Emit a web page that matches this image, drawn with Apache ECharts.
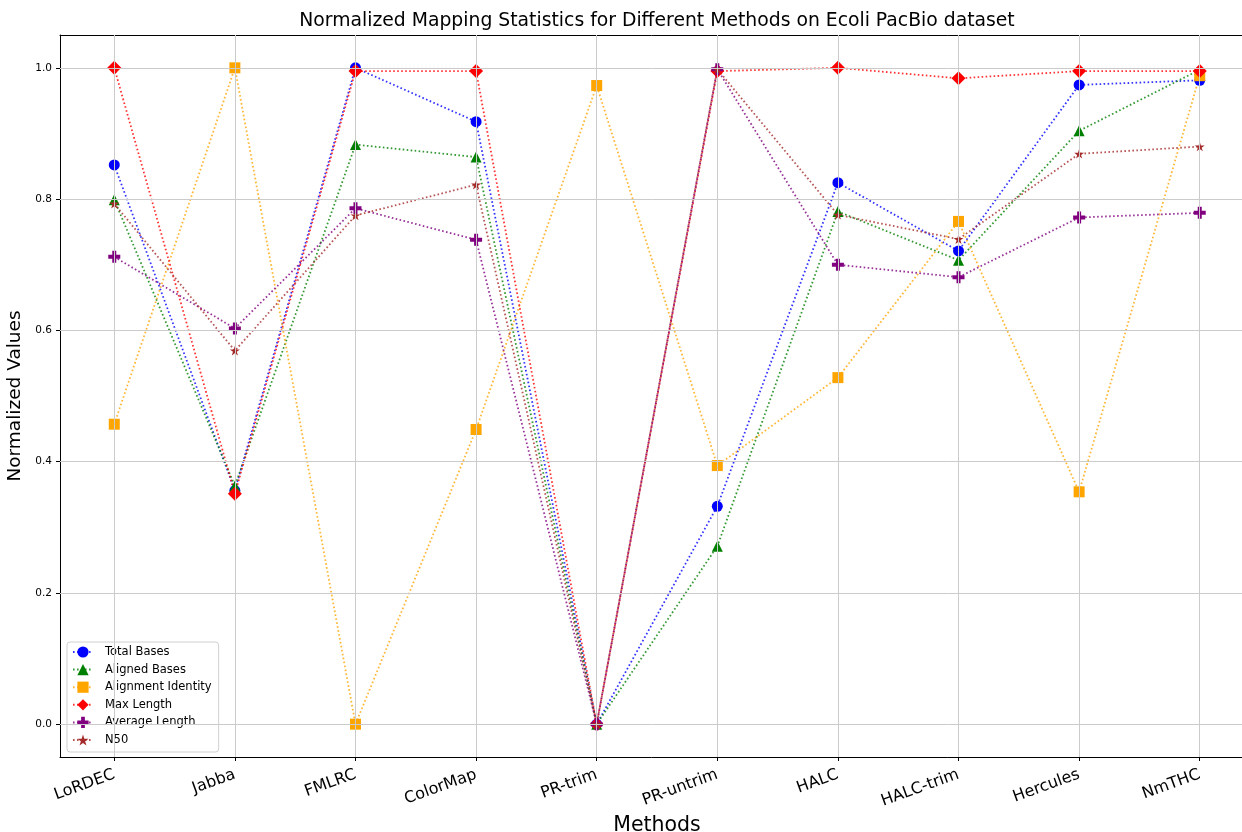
<!DOCTYPE html>
<html>
<head>
<meta charset="utf-8">
<script src="https://cdn.jsdelivr.net/npm/echarts@6/dist/echarts.min.js"></script>
<style>
html,body{margin:0;padding:0;background:#fff;overflow:hidden;}
#chart{width:1242px;height:832px;}
</style>
</head>
<body>
<div id="chart"></div>
<script>
const categories = ['LoRDEC','Jabba','FMLRC','ColorMap','PR-trim','PR-untrim','HALC','HALC-trim','Hercules','NmTHC'];
const totalBases = [0.852, 0.356, 1.0, 0.918, 0.0, 0.332, 0.825, 0.721, 0.974, 0.981];
const alignedBases = [0.799, 0.363, 0.883, 0.864, 0.0, 0.271, 0.781, 0.707, 0.904, 0.997];
const alignmentIdentity = [0.457, 1.0, 0.0, 0.449, 0.973, 0.394, 0.528, 0.766, 0.354, 0.988];
const maxLength = [1.0, 0.351, 0.995, 0.995, 0.0, 0.995, 1.0, 0.984, 0.995, 0.995];
const averageLength = [0.712, 0.603, 0.786, 0.738, 0.0, 0.998, 0.700, 0.681, 0.772, 0.779];
const n50 = [0.793, 0.569, 0.775, 0.822, 0.0, 0.998, 0.776, 0.739, 0.869, 0.880];
const yTicks = [0.0, 0.2, 0.4, 0.6, 0.8, 1.0];
const xTicks = categories.map((c, i) => i);

const PLUS = 'path://M-1,-3L-1,-1L-3,-1L-3,1L-1,1L-1,3L1,3L1,1L3,1L3,-1L1,-1L1,-3Z';
const STAR = 'path://M0,-100L-22.45,-30.9L-95.11,-30.9L-36.33,11.8L-58.78,80.9L0,38.2L58.78,80.9L36.33,11.8L95.11,-30.9L22.45,-30.9Z';

const seriesDefs = [
  {name: 'Total Bases', data: totalBases, color: '#0000ff', symbol: 'circle', size: 11},
  {name: 'Aligned Bases', data: alignedBases, color: '#008000', symbol: 'triangle', size: 11},
  {name: 'Alignment Identity', data: alignmentIdentity, color: '#ffa500', symbol: 'rect', size: 11},
  {name: 'Max Length', data: maxLength, color: '#ff0000', symbol: 'diamond', size: 14},
  {name: 'Average Length', data: averageLength, color: '#800080', symbol: PLUS, size: 12},
  {name: 'N50', data: n50, color: '#a52a2a', symbol: STAR, size: 10}
];

const chart = echarts.init(document.getElementById('chart'), null, {renderer: 'canvas', width: 1242, height: 832});

const series = [{
  name: '__grid',
  type: 'line',
  data: [],
  z: 1,
  silent: true,
  markLine: {
    silent: true,
    symbol: 'none',
    animation: false,
    label: {show: false},
    lineStyle: {color: '#cbcbcb', width: 1, type: 'solid'},
    emphasis: {disabled: true},
    data: xTicks.map(i => ({xAxis: i})).concat(yTicks.map(v => ({yAxis: v})))
  }
}];

seriesDefs.forEach(s => {
  series.push({
    name: s.name,
    type: 'line',
    z: 3,
    data: s.data.map((v, i) => [i, v]),
    symbol: s.symbol,
    symbolSize: s.size,
    symbolKeepAspect: true,
    showAllSymbol: true,
    itemStyle: {color: s.color, opacity: 1},
    lineStyle: {color: s.color, width: 1.8, type: [1.6, 2.4], opacity: 0.8},
    emphasis: {disabled: true},
    animation: false
  });
});

const option = {
  animation: false,
  backgroundColor: '#ffffff',
  title: {
    text: 'Normalized Mapping Statistics for Different Methods on Ecoli PacBio dataset',
    left: 657,
    top: 12,
    padding: 0,
    textAlign: 'center',
    textStyle: {fontFamily: 'DejaVu Sans', fontSize: 18.8, fontWeight: 'normal', color: '#000'}
  },
  legend: {
    data: seriesDefs.map(s => s.name),
    orient: 'vertical',
    left: 67,
    top: 642,
    itemWidth: 20,
    itemHeight: 14,
    itemGap: 3.6,
    padding: [3, 7, 5, 5],
    borderColor: '#d0d0d0',
    borderWidth: 1,
    borderRadius: 3,
    backgroundColor: 'rgba(255,255,255,0.8)',
    textStyle: {fontFamily: 'DejaVu Sans', fontSize: 11.5, color: '#000', lineHeight: 14, padding: [0, 0, 0, 7]}
  },
  grid: {left: 60, top: 35, width: 1194, height: 722, containLabel: false, outerBoundsMode: 'none'},
  xAxis: [{
    type: 'value',
    min: -0.45,
    max: 9.45,
    position: 'bottom',
    name: 'Methods',
    nameLocation: 'middle',
    nameGap: 57,
    nameTextStyle: {fontFamily: 'DejaVu Sans', fontSize: 20.5, color: '#000'},
    axisLine: {show: true, onZero: false, lineStyle: {color: '#000', width: 1}},
    axisTick: {show: true, customValues: xTicks, length: 4, lineStyle: {color: '#000', width: 1}},
    axisLabel: {
      customValues: xTicks,
      rotate: 20,
      margin: 17,
      fontFamily: 'DejaVu Sans',
      fontSize: 16,
      color: '#000',
      formatter: v => categories[Math.round(v)]
    },
    splitLine: {show: false}
  }, {
    type: 'value',
    min: -0.45,
    max: 9.45,
    position: 'top',
    axisLine: {show: true, onZero: false, lineStyle: {color: '#000', width: 1}},
    axisTick: {show: false},
    axisLabel: {show: false},
    splitLine: {show: false}
  }],
  yAxis: {
    type: 'value',
    min: -0.05,
    max: 1.05,
    name: 'Normalized Values',
    nameLocation: 'middle',
    nameGap: 32,
    nameTextStyle: {fontFamily: 'DejaVu Sans', fontSize: 18.5, color: '#000'},
    axisLine: {show: true, onZero: false, lineStyle: {color: '#000', width: 1}},
    axisTick: {show: true, customValues: yTicks, length: 4, lineStyle: {color: '#000', width: 1}},
    axisLabel: {
      customValues: yTicks,
      margin: 8,
      fontFamily: 'DejaVu Sans',
      fontSize: 10.5,
      color: '#000',
      formatter: v => v.toFixed(1)
    },
    splitLine: {show: false}
  },
  series: series
};

chart.setOption(option);
</script>
</body>
</html>
